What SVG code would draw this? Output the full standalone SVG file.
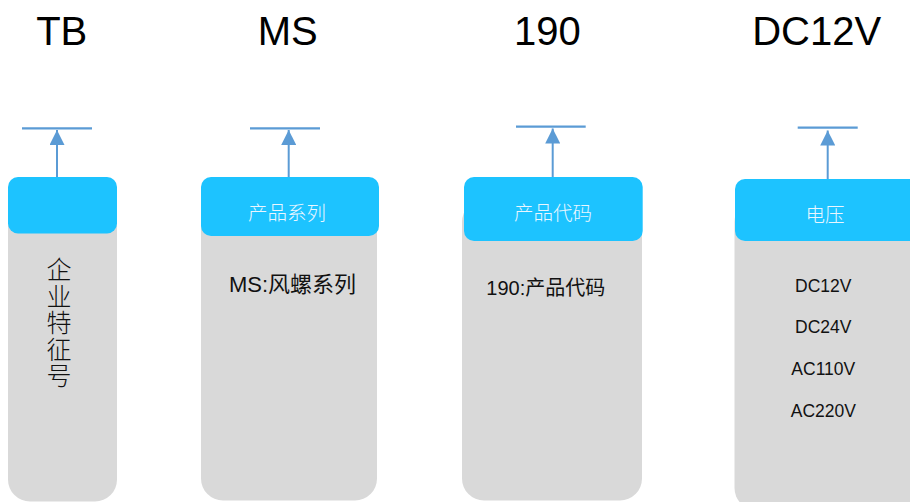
<svg xmlns="http://www.w3.org/2000/svg" width="910" height="502" viewBox="0 0 910 502">
<defs>
<style>
.title{font-family:"Liberation Sans","Noto Sans CJK SC",sans-serif;font-size:40px;fill:#000;text-anchor:middle}
.body{fill:#D9D9D9}
.head{fill:#1DC3FF}
.htxt{font-family:"Noto Sans CJK SC","Liberation Sans",sans-serif;font-size:19.5px;fill:#EAF6FF;text-anchor:middle;font-weight:300}
.btxt{font-family:"Liberation Sans","Noto Sans CJK SC",sans-serif;fill:#111;text-anchor:middle}
.vtxt{font-family:"Noto Sans CJK SC",sans-serif;font-size:25px;font-weight:300;fill:#111;writing-mode:vertical-rl;letter-spacing:1.5px}
.bar{stroke:#5B9BD5;stroke-width:2.2;fill:none}
.arr{stroke:#5B9BD5;stroke-width:2;fill:none;marker-end:url(#ah)}
</style>
<marker id="ah" markerUnits="userSpaceOnUse" markerWidth="16" markerHeight="15" refX="15" refY="7.5" orient="auto" viewBox="0 0 16 15">
<path d="M0,0 L15,7.5 L0,15 z" fill="#5B9BD5"/>
</marker>
</defs>
<rect width="910" height="502" fill="#FFFFFF"/>
<g id="titles">
<text class="title" x="61.7" y="45">TB</text>
<text class="title" x="287.8" y="45">MS</text>
<text class="title" x="547.3" y="45">190</text>
<text class="title" x="816.7" y="45">DC12V</text>
</g>
<g id="connectors">
<line class="bar" x1="22" y1="128.3" x2="92" y2="128.3"/>
<line class="arr" x1="57" y1="177" x2="57" y2="130"/>
<line class="bar" x1="250" y1="128.3" x2="320" y2="128.3"/>
<line class="arr" x1="288.7" y1="177" x2="288.7" y2="130"/>
<line class="bar" x1="516" y1="126.7" x2="585.7" y2="126.7"/>
<line class="arr" x1="552.7" y1="177" x2="552.7" y2="128.5"/>
<line class="bar" x1="797.7" y1="127.7" x2="857.7" y2="127.7"/>
<line class="arr" x1="827.7" y1="179" x2="827.7" y2="130.5"/>
</g>
<g id="node-tb">
<rect class="body" x="8" y="200" width="109" height="301.5" rx="22"/>
<rect class="head" x="8" y="177" width="109" height="56.5" rx="10"/>
<text class="vtxt" x="59" y="257">企业特征号</text>
</g>
<g id="node-ms">
<rect class="body" x="201" y="200" width="176" height="300.5" rx="22"/>
<rect class="head" x="201" y="177" width="178" height="59" rx="10"/>
<text class="htxt" x="287" y="219.5">产品系列</text>
<text class="btxt" style="font-size:22px" x="292.5" y="291.5">MS:风螺系列</text>
</g>
<g id="node-190">
<rect class="body" x="462" y="200" width="180" height="300.5" rx="22"/>
<rect class="head" x="464" y="177" width="178.7" height="64" rx="10"/>
<text class="htxt" x="553" y="220">产品代码</text>
<text class="btxt" style="font-size:20px" x="545.8" y="294.5">190:产品代码</text>
</g>
<g id="node-dc12v">
<rect class="body" x="734.5" y="200" width="185" height="310" rx="22"/>
<rect class="head" x="735" y="179" width="185" height="62" rx="10"/>
<text class="htxt" x="825" y="221.5">电压</text>
<text class="btxt" style="font-size:17.5px" x="823.3" y="291.5">DC12V</text>
<text class="btxt" style="font-size:17.5px" x="823.3" y="333">DC24V</text>
<text class="btxt" style="font-size:17.5px" x="823.3" y="374.7">AC110V</text>
<text class="btxt" style="font-size:17.5px" x="823.3" y="416.5">AC220V</text>
</g>
</svg>
